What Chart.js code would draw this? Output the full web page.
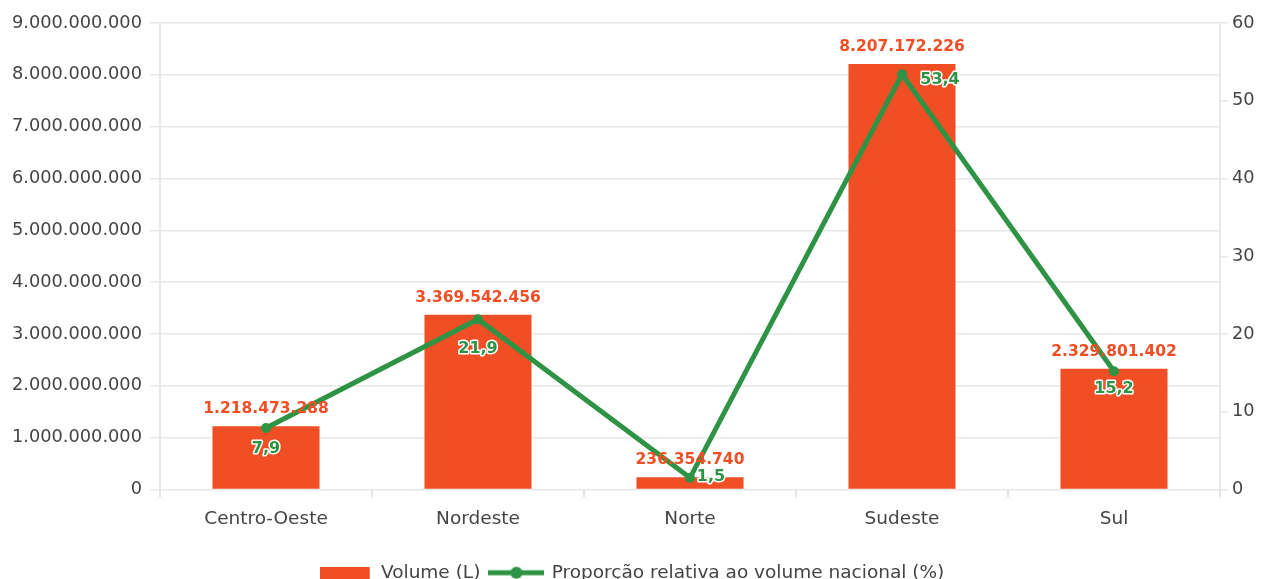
<!DOCTYPE html>
<html>
<head>
<meta charset="utf-8">
<script src="https://cdn.jsdelivr.net/npm/chart.js@4.4.1/dist/chart.umd.min.js"></script>
<style>
  html, body { margin: 0; padding: 0; background: #fff; overflow: hidden; }
  #wrap { width: 1264px; height: 592px; }
</style>
</head>
<body>
<div id="wrap"><canvas id="c" width="1264" height="592"></canvas></div>
<script>
const categories = ['Centro-Oeste', 'Nordeste', 'Norte', 'Sudeste', 'Sul'];
const volumes = [1218473288, 3369542456, 236354740, 8207172226, 2329801402];
const proportions = [7.9, 21.9, 1.5, 53.4, 15.2];
const leftTicks = [0, 1000000000, 2000000000, 3000000000, 4000000000, 5000000000, 6000000000, 7000000000, 8000000000, 9000000000];
const rightTicks = [0, 10, 20, 30, 40, 50, 60];

const ORANGE = '#f04e24';
const GREEN = '#2e9344';
const FONT = "'DejaVu Sans', sans-serif";

function fmtInt(v) {
  return String(Math.round(v)).replace(/\B(?=(\d{3})+(?!\d))/g, '.');
}
function fmtDec(v) {
  return v.toFixed(1).replace('.', ',');
}

function makeBarIcon() {
  const c = document.createElement('canvas');
  c.width = 52; c.height = 12;
  const x = c.getContext('2d');
  x.fillStyle = ORANGE; x.fillRect(0, 0, 50, 12);
  return c;
}
function makeLineIcon() {
  const c = document.createElement('canvas');
  c.width = 56; c.height = 14;
  const x = c.getContext('2d');
  x.strokeStyle = GREEN; x.lineWidth = 5;
  x.beginPath(); x.moveTo(0, 7); x.lineTo(56, 7); x.stroke();
  x.fillStyle = GREEN; x.beginPath(); x.arc(28, 7, 6, 0, Math.PI * 2); x.fill();
  return c;
}

const labelPlugin = {
  id: 'valueLabels',
  afterDatasetsDraw(chart, args, opts) {
    const ctx = chart.ctx;
    ctx.save();
    ctx.textAlign = 'center';
    ctx.textBaseline = 'middle';
    const m0 = chart.getDatasetMeta(0);
    ctx.font = 'bold 15.5px ' + FONT;
    ctx.fillStyle = ORANGE;
    m0.data.forEach((el, i) => {
      ctx.fillText(fmtInt(volumes[i]), el.x, el.y - 17);
    });
    const m1 = chart.getDatasetMeta(1);
    ctx.font = 'bold 16px ' + FONT;
    ctx.lineJoin = 'round';
    m1.data.forEach((el, i) => {
      const o = opts.lineOffsets[i];
      const t = fmtDec(proportions[i]);
      ctx.strokeStyle = '#ffffff';
      ctx.lineWidth = 3;
      ctx.strokeText(t, el.x + o[0], el.y + o[1]);
      ctx.fillStyle = GREEN;
      ctx.fillText(t, el.x + o[0], el.y + o[1]);
    });
    ctx.restore();
  }
};

const barIcon = makeBarIcon();
const lineIcon = makeLineIcon();

new Chart(document.getElementById('c'), {
  type: 'bar',
  data: {
    labels: categories,
    datasets: [
      {
        type: 'bar',
        label: 'Volume (L)',
        data: volumes,
        backgroundColor: ORANGE,
        borderWidth: 0,
        yAxisID: 'y',
        categoryPercentage: 1.0,
        barPercentage: 0.505,
        order: 2
      },
      {
        type: 'line',
        label: 'Proporção relativa ao volume nacional (%)',
        data: proportions,
        borderColor: GREEN,
        backgroundColor: GREEN,
        borderWidth: 5,
        pointRadius: 5,
        pointHoverRadius: 5,
        pointBackgroundColor: GREEN,
        pointBorderWidth: 0,
        tension: 0,
        yAxisID: 'y1',
        order: 1
      }
    ]
  },
  options: {
    responsive: false,
    animation: false,
    events: [],
    layout: { padding: { top: 23, bottom: 0, left: 0, right: 0 } },
    plugins: {
      tooltip: { enabled: false },
      valueLabels: { lineOffsets: [[0, 21], [0, 30], [21, -1], [38, 6], [0, 18]] },
      legend: {
        position: 'bottom',
        labels: {
          usePointStyle: true,
          pointStyleWidth: 52,
          padding: 10,
          color: '#444444',
          font: { family: FONT, size: 18.5 },
          generateLabels(chart) {
            return chart.data.datasets.map((ds, i) => ({
              text: ds.label,
              pointStyle: i === 0 ? barIcon : lineIcon,
              fillStyle: ds.backgroundColor,
              strokeStyle: ds.borderColor || ds.backgroundColor,
              lineWidth: 0,
              fontColor: '#444444',
              hidden: false,
              datasetIndex: i
            }));
          }
        }
      }
    },
    scales: {
      x: {
        offset: true,
        grid: { offset: true, drawOnChartArea: false, drawTicks: true, tickLength: 8, color: '#e6e6e6', lineWidth: 2 },
        border: { display: false },
        ticks: { color: '#444444', font: { family: FONT, size: 18.5 }, padding: 11 },
        afterFit(s) { s.height = 64; }
      },
      y: {
        position: 'left',
        min: 0, max: 9000000000,
        afterBuildTicks(s) { s.ticks = leftTicks.map(v => ({ value: v })); },
        grid: { color: '#e8e8e8', lineWidth: 1.5, tickLength: 10 },
        border: { display: true, color: '#e8e8e8', width: 2 },
        ticks: { color: '#444444', font: { family: FONT, size: 17.8 }, padding: 8, callback: v => fmtInt(v) },
        afterFit(s) { s.width = 160; }
      },
      y1: {
        position: 'right',
        min: 0, max: 60,
        afterBuildTicks(s) { s.ticks = rightTicks.map(v => ({ value: v })); },
        grid: { drawOnChartArea: false, color: '#e8e8e8', lineWidth: 1.5, tickLength: 8 },
        border: { display: true, color: '#e8e8e8', width: 2 },
        ticks: { color: '#444444', font: { family: FONT, size: 17.8 }, padding: 4, callback: v => String(v) },
        afterFit(s) { s.width = 44; }
      }
    }
  },
  plugins: [labelPlugin]
});
</script>
</body>
</html>
